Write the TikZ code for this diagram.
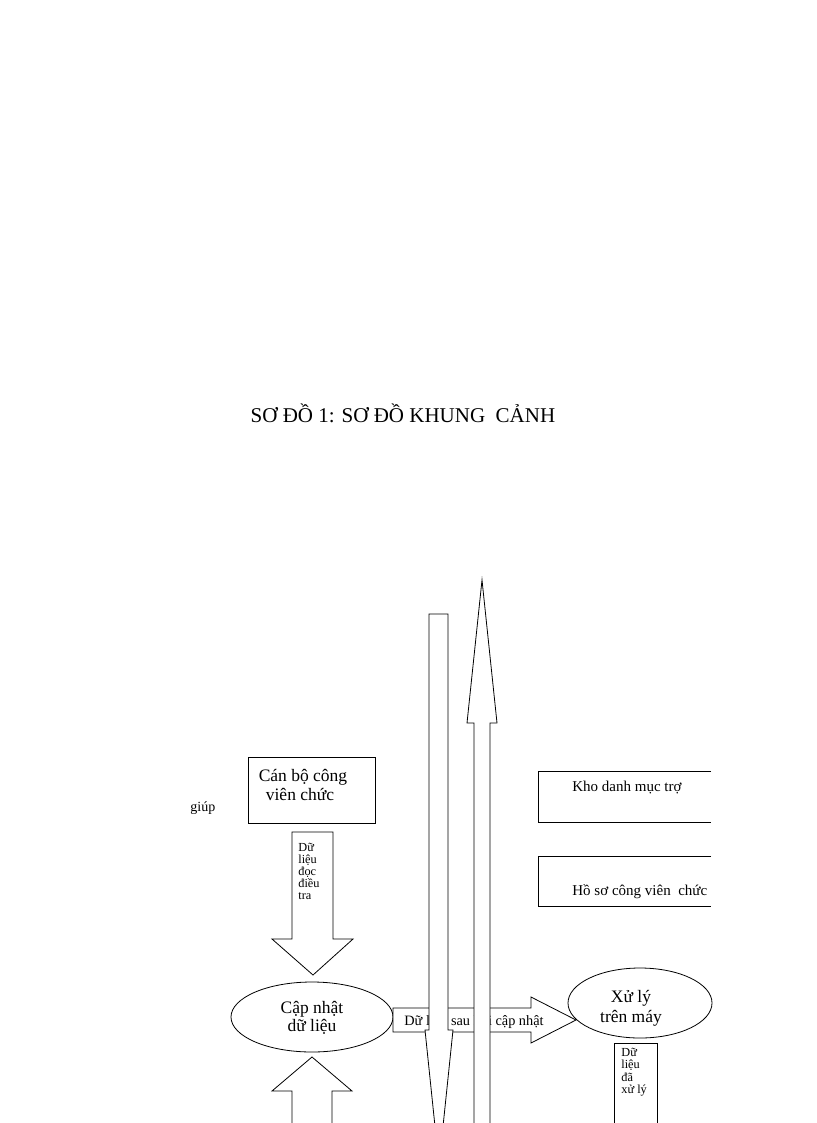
\documentclass[tikz,border=0pt]{standalone}
\usepackage{fontspec}
\setmainfont{Liberation Serif}
\usetikzlibrary{shapes.geometric}
\begin{document}
\begin{tikzpicture}[x=1pt,y=-1pt,line width=0.8pt,
  txt/.style={inner sep=0pt,anchor=base west},
  big/.style={txt,font=\fontsize{17.5}{18}\selectfont},
  mid/.style={txt,font=\fontsize{15}{16}\selectfont},
  lab/.style={txt,font=\fontsize{14.3}{15}\selectfont},
  small/.style={txt,font=\fontsize{12.3}{12}\selectfont},
  blk/.style={draw=black,fill=white,line join=miter},
  proc/.style={draw=black,fill=white,ellipse,inner sep=0pt}]
\useasboundingbox (0,0) rectangle (816,1123);
\clip (0,0) rectangle (816,1123);
\fill[white] (0,0) rectangle (816,1123);

% title
\node[inner sep=0pt,anchor=base,font=\fontsize{21}{24}\selectfont] (title) at (403,422) {SƠ ĐỒ 1: SƠ ĐỒ KHUNG~~CẢNH};

% external entity
\node[draw,minimum width=127pt,minimum height=66pt,anchor=north west,inner sep=0pt] (cb) at (248,757) {};
\node[big,anchor=base] (cb1) at (303,781) {Cán bộ công};
\node[big,anchor=base] (cb2) at (300,800) {viên chức};
\node[txt,font=\fontsize{14}{15}\selectfont] (giup) at (190,811) {giúp};

% data stores
\coordinate (k1) at (711,771); \coordinate (k2) at (538,771);
\coordinate (k3) at (538,822); \coordinate (k4) at (711,822);
\draw (k1) -- (k2) -- (k3) -- (k4);
\node[mid] (kho) at (572,791) {Kho danh mục trợ};
\coordinate (h1) at (711,856); \coordinate (h2) at (538,856);
\coordinate (h3) at (538,906); \coordinate (h4) at (711,906);
\draw (h1) -- (h2) -- (h3) -- (h4);
\node[mid] (hoso) at (572,895) {Hồ sơ công viên~~chức};

% short down arrow
\draw[blk] (292,832) -- (333,832) -- (333,939) -- (353,939) -- (313,975) -- (272,939) -- (292,939) -- cycle;
\foreach \s/\yy [count=\i] in {Dữ/851,liệu/863,đọc/875,điều/887,tra/899}
  \node[small] (dt\i) at (298,\yy) {\s};

% processes
\node[proc,minimum width=162pt,minimum height=70pt] (cn) at (312,1017) {};
\node[big,anchor=base] (cn1) at (312,1013) {Cập nhật};
\node[big,anchor=base] (cn2) at (312,1031) {dữ liệu};
\node[proc,minimum width=144pt,minimum height=70pt] (xl) at (640,1003) {};
\node[big,anchor=base] (xl1) at (631,1002) {Xử lý};
\node[big,anchor=base] (xl2) at (631,1022) {trên máy};

% up arrow at bottom
\draw[blk] (312,1057) -- (352,1091) -- (332,1091) -- (332,1135) -- (292,1135) -- (292,1091) -- (272,1091) -- cycle;

% horizontal arrow
\draw[blk] (393,1008) -- (531,1008) -- (531,997) -- (576,1020) -- (531,1043) -- (531,1032) -- (393,1032) -- cycle;
\node[lab] (sau) at (404,1025) {Dữ liệu sau khi cập nhật};

% long arrows
\draw[blk] (429,614) -- (448,614) -- (448,1030) -- (453,1030) -- (439,1165) -- (425,1030) -- (429,1030) -- cycle;
\draw[blk] (482,580) -- (497,723) -- (490,723) -- (490,1135) -- (474,1135) -- (474,723) -- (467,723) -- cycle;

% processed data box
\draw (614,1135) -- (614,1043) -- (657,1043) -- (657,1135);
\foreach \s/\yy [count=\i] in {Dữ/1056,liệu/1068,đã/1081,xử lý/1093}
  \node[small] (dx\i) at (621,\yy) {\s};
\end{tikzpicture}
\end{document}
